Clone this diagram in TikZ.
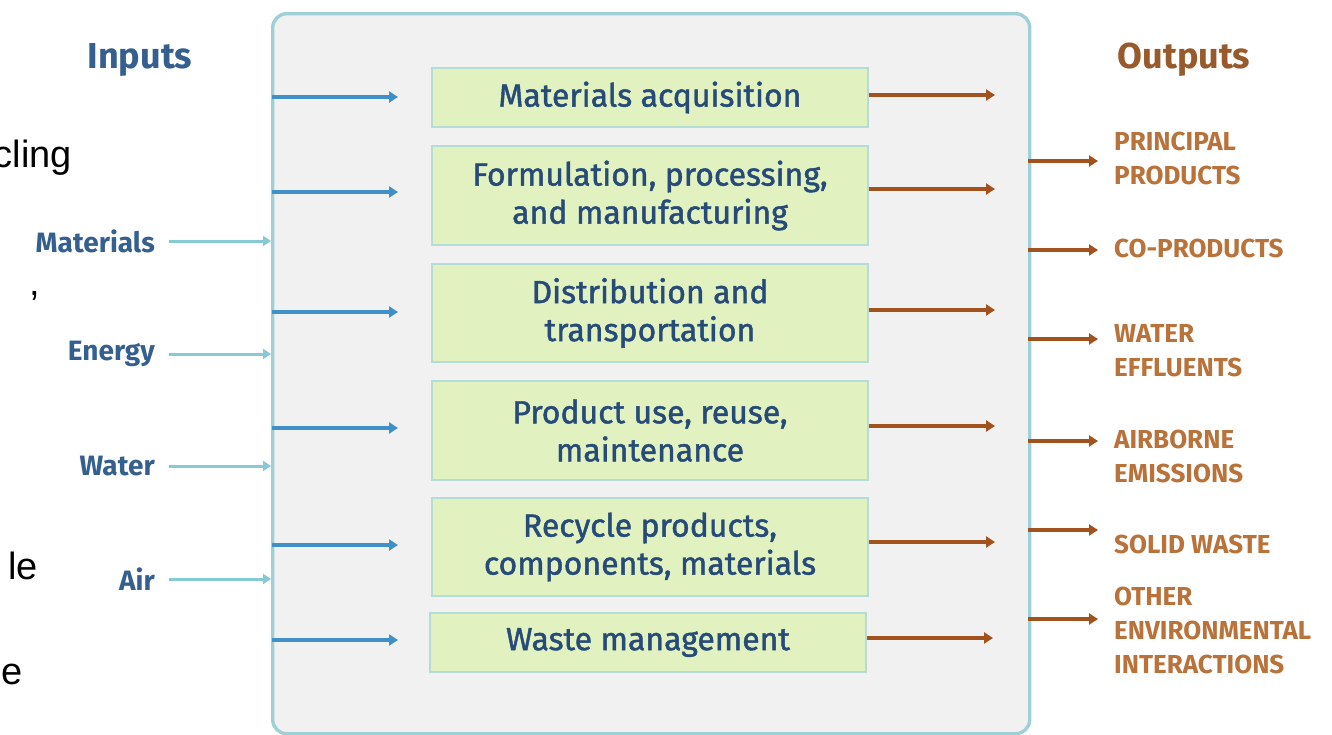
\documentclass[tikz,border=0pt]{standalone}
\usepackage{fontspec}
\setmainfont{Fira Sans}
\newfontfamily\medf{Fira Sans}[FakeBold=1.4]
\newfontfamily\frag{Liberation Sans}
\usetikzlibrary{arrows.meta}
\definecolor{frameC}{HTML}{9FD0D8}
\definecolor{panelC}{HTML}{F1F1F1}
\definecolor{boxC}{HTML}{E1F1C0}
\definecolor{boxLine}{HTML}{B5DCD6}
\definecolor{blueA}{HTML}{3F8FC8}
\definecolor{tealA}{HTML}{86CAD4}
\definecolor{brownA}{HTML}{A2521C}
\definecolor{navyT}{HTML}{274B78}
\definecolor{inT}{HTML}{345F8E}
\definecolor{outT}{HTML}{B8723A}
\definecolor{outTitle}{HTML}{98592B}
\tikzset{
  stage/.style={draw=boxLine, line width=2pt, fill=boxC, text=navyT, font=\medf\fontsize{32}{38}\selectfont, align=center, inner sep=0pt},
  inarrow/.style={draw=blueA, line width=3.6pt, -{Triangle[length=9pt,width=11pt]}},
  outarrow/.style={draw=brownA, line width=3.6pt, -{Triangle[length=9pt,width=11pt]}},
  srcarrow/.style={draw=tealA, line width=3pt, -{Triangle[length=8pt,width=10pt]}},
  inlabel/.style={text=inT, font=\bfseries\fontsize{28}{30}\selectfont, anchor=east, inner sep=0pt},
  outlabel/.style={text=outT, font=\bfseries\fontsize{26}{34}\selectfont, anchor=west, align=left, inner sep=0pt},
  fragtext/.style={font=\frag\fontsize{38}{40}\selectfont, anchor=east, inner sep=0pt, text=black}
}
\begin{document}
\begin{tikzpicture}[x=1pt,y=-1pt]
\useasboundingbox (0,0) rectangle (1332,734);
% panel
\node[draw=frameC, line width=3.4pt, fill=panelC, rounded corners=14pt, minimum width=757pt, minimum height=720pt, anchor=north west, inner sep=0pt] (panel) at (271,12) {};
% stages
\node[stage, minimum width=436pt, minimum height=59pt] (s1) at (650,97.5) {Materials acquisition};
\node[stage, minimum width=436pt, minimum height=99pt] (s2) at (650,195.5) {Formulation, processing,\\and manufacturing};
\node[stage, minimum width=436pt, minimum height=98pt] (s3) at (650,313) {Distribution and\\transportation};
\node[stage, minimum width=436pt, minimum height=99pt] (s4) at (650,430.5) {Product use, reuse,\\maintenance};
\node[stage, minimum width=436pt, minimum height=98pt] (s5) at (650,547) {Recycle products,\\components, materials};
\node[stage, minimum width=436pt, minimum height=59pt] (s6) at (648,642.5) {Waste management};
% inner coordinates
\coordinate (l1) at (272,97);  \coordinate (l2) at (272,192); \coordinate (l3) at (272,312);
\coordinate (l4) at (272,428); \coordinate (l5) at (272,545); \coordinate (l6) at (272,640);
\coordinate (r1) at (995,95);  \coordinate (r2) at (995,189); \coordinate (r3) at (995,310);
\coordinate (r4) at (995,426); \coordinate (r5) at (995,542); \coordinate (r6) at (993,638);
\draw[inarrow] (l1) -- (398,97);
\draw[inarrow] (l2) -- (398,192);
\draw[inarrow] (l3) -- (398,312);
\draw[inarrow] (l4) -- (398,428);
\draw[inarrow] (l5) -- (398,545);
\draw[inarrow] (l6) -- (398,640);
\draw[outarrow] (s1.east |- r1) -- (r1);
\draw[outarrow] (s2.east |- r2) -- (r2);
\draw[outarrow] (s3.east |- r3) -- (r3);
\draw[outarrow] (s4.east |- r4) -- (r4);
\draw[outarrow] (s5.east |- r5) -- (r5);
\draw[outarrow] (s6.east |- r6) -- (r6);
% titles
\node[text=inT, font=\bfseries\fontsize{36}{40}\selectfont, inner sep=0pt] (tin) at (140,60) {Inputs};
\node[text=outTitle, font=\bfseries\fontsize{36}{40}\selectfont, inner sep=0pt] (tout) at (1184,60) {Outputs};
% inputs
\node[inlabel] (mat) at (155,241) {Materials};
\node[inlabel] (ene) at (155,354) {Energy};
\node[inlabel] (wat) at (155,466) {Water};
\node[inlabel] (air) at (155,579) {Air};
\draw[srcarrow] (mat.east) ++(14,0) -- (panel.west |- mat.east);
\draw[srcarrow] (ene.east) ++(14,0) -- (panel.west |- ene.east);
\draw[srcarrow] (wat.east) ++(14,0) -- (panel.west |- wat.east);
\draw[srcarrow] (air.east) ++(14,0) -- (panel.west |- air.east);
% outputs
\node[outlabel] (o1) at (1114,158) {PRINCIPAL\\PRODUCTS};
\node[outlabel] (o2) at (1114,248) {CO-PRODUCTS};
\node[outlabel] (o3) at (1114,351) {WATER\\EFFLUENTS};
\node[outlabel] (o4) at (1114,456) {AIRBORNE\\EMISSIONS};
\node[outlabel] (o5) at (1114,544) {SOLID WASTE};
\node[outlabel] (o6) at (1114,630) {OTHER\\ENVIRONMENTAL\\INTERACTIONS};
\coordinate (p1) at (1028,161); \coordinate (p2) at (1028,250); \coordinate (p3) at (1028,339);
\coordinate (p4) at (1028,441); \coordinate (p5) at (1028,530); \coordinate (p6) at (1028,619);
\draw[outarrow] (p1) -- (1098,161);
\draw[outarrow] (p2) -- (1098,250);
\draw[outarrow] (p3) -- (1098,339);
\draw[outarrow] (p4) -- (1098,441);
\draw[outarrow] (p5) -- (1098,530);
\draw[outarrow] (p6) -- (1098,619);
% stray text fragments at the left edge
\node[fragtext] (f0) at (31,-6) {,};
\node[fragtext] (f1) at (72,158) {cling};
\node[fragtext] (f2) at (40,296) {,};
\node[fragtext] (f3) at (38,566) {le};
\node[fragtext] (f4) at (23,674) {e};
\end{tikzpicture}
\end{document}
